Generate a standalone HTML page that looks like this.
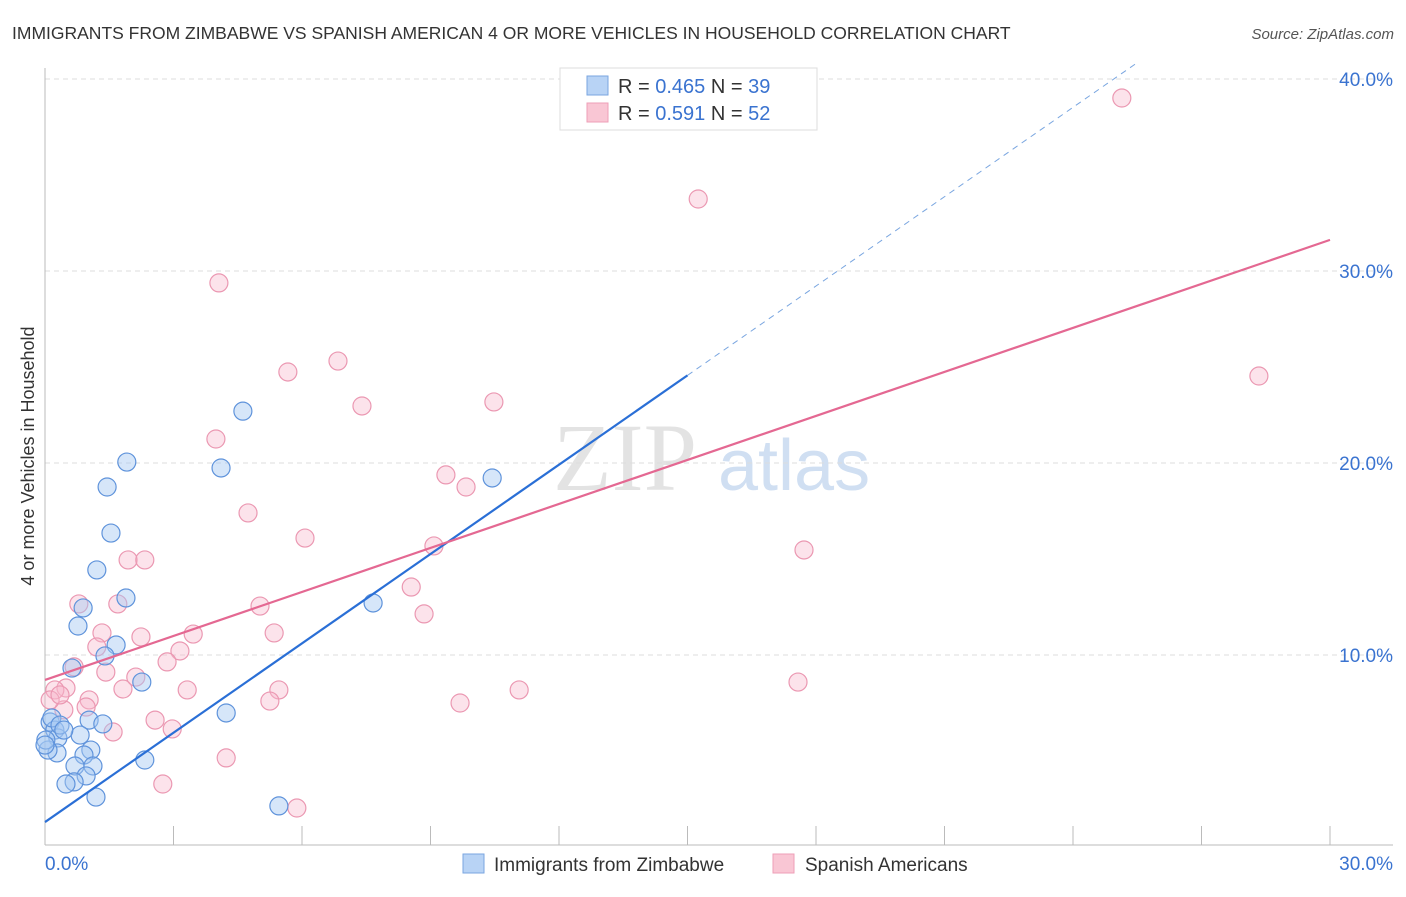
<!DOCTYPE html>
<html><head><meta charset="utf-8"><style>
body{margin:0;background:#fff;font-family:"Liberation Sans",sans-serif;}
</style></head><body>
<svg id="chart" width="1406" height="892" xmlns="http://www.w3.org/2000/svg" style="font-family:'Liberation Sans',sans-serif">
<text x="12" y="39" font-size="17.5" fill="#333">IMMIGRANTS FROM ZIMBABWE VS SPANISH AMERICAN 4 OR MORE VEHICLES IN HOUSEHOLD CORRELATION CHART</text>
<text x="1394" y="39" font-size="15" fill="#555" font-style="italic" text-anchor="end">Source: ZipAtlas.com</text>
<g>
<text x="553" y="490" font-size="96" fill="#ddd" font-family="Liberation Serif,serif" opacity="0.8">ZIP</text>
<text x="718" y="490" font-size="72" fill="#c5d8f0" opacity="0.8">atlas</text>
</g>
<g id="grid"></g><g id="axes"></g><g id="marks"></g>
<text transform="translate(34,456) rotate(-90)" font-size="18" fill="#333" text-anchor="middle">4 or more Vehicles in Household</text>
<g>
<rect x="560" y="68" width="257" height="62" fill="#fff" stroke="#ddd"/>
<rect x="587" y="76" width="21" height="19" fill="#b8d3f5" stroke="#7aa6e0"/>
<rect x="587" y="103" width="21" height="19" fill="#f9c6d4" stroke="#ee9fb7"/>
<text x="618" y="93" font-size="20" fill="#333">R = <tspan fill="#3a73d0">0.465</tspan>   N = <tspan fill="#3a73d0">39</tspan></text>
<text x="618" y="120" font-size="20" fill="#333">R =  <tspan fill="#3a73d0">0.591</tspan>   N = <tspan fill="#3a73d0">52</tspan></text>
</g>
<g>
<rect x="463" y="854" width="21" height="19" fill="#b8d3f5" stroke="#7aa6e0"/>
<text x="494" y="871" font-size="19" fill="#333">Immigrants from Zimbabwe</text>
<rect x="773" y="854" width="21" height="19" fill="#f9c6d4" stroke="#ee9fb7"/>
<text x="805" y="871" font-size="19" fill="#333">Spanish Americans</text>
</g>
</svg>
<script>
const blueX=[4.62,1.91,4.11,1.45,10.44,1.54,1.21,1.89,0.89,0.77,1.66,1.40,0.63,2.26,7.66,4.23,1.03,1.35,0.12,0.23,0.30,0.82,1.07,0.91,0.28,0.07,2.33,0.70,1.12,0.96,0.68,0.49,1.19,5.46,0.16,0.35,0.02,0.44,0];
const blueY=[22.7,20.05,19.74,18.75,19.22,16.35,14.43,12.97,12.45,11.51,10.52,9.95,9.32,8.59,12.71,6.98,6.61,6.41,6.51,6.09,5.68,5.83,5.05,4.79,4.90,5.05,4.53,4.22,4.22,3.70,3.39,3.28,2.60,2.14,6.72,6.35,5.57,6.09,5.31];
const pinkX=[25.14,15.25,4.06,6.84,5.67,7.40,10.48,3.99,9.36,9.83,4.74,6.07,9.08,1.94,2.33,17.72,8.55,8.85,5.02,1.70,0.79,5.35,3.46,1.33,2.24,1.21,3.15,2.85,1.42,0.68,0.49,1.82,3.32,5.46,11.07,17.58,28.34,2.12,1.03,5.25,9.69,0.96,0.44,2.57,1.59,2.97,4.23,2.75,5.88,0.23,0.12,0.35];
const pinkY=[39.01,33.75,29.38,25.31,24.74,22.97,23.18,21.25,19.38,18.75,17.40,16.09,15.68,14.95,14.95,15.47,13.54,12.14,12.55,12.66,12.66,11.15,11.09,11.15,10.94,10.42,10.21,9.64,9.11,9.38,8.28,8.23,8.18,8.18,8.18,8.59,24.53,8.85,7.66,7.60,7.50,7.29,7.14,6.61,5.99,6.15,4.64,3.28,2.03,8.18,7.66,7.92];
const blueTrend=[1.30,1.551];
const pinkTrend=[8.70,0.764];
const yTicks=[10,20,30,40];
const yTickLabels=["10.0%","20.0%","30.0%","40.0%"];
const xTicks=[0,3,6,9,12,15,18,21,24,27,30];
const NS="http://www.w3.org/2000/svg";
const sx=v=>45+v*1285/30, sy=v=>847-v*19.2;
function mk(tag,attrs,parent,text){const e=document.createElementNS(NS,tag);for(const k in attrs)e.setAttribute(k,attrs[k]);if(text!==undefined)e.textContent=text;document.getElementById(parent).appendChild(e);return e;}
yTicks.forEach((t,i)=>{
 const g=mk('line',{x1:45,x2:1393,y1:sy(t),y2:sy(t),stroke:'#ddd','stroke-dasharray':'5,4'},'grid');
 
 
 const l=mk('text',{x:1393,y:sy(t)+7,'font-size':19,fill:'#3a73d0','text-anchor':'end'},'axes',yTickLabels[i]);
 
 
});
const ya=mk('line',{x1:45,x2:45,y1:68,y2:845,stroke:'#bbb'},'axes');


const xa=mk('line',{x1:45,x2:1393,y1:845,y2:845,stroke:'#bbb'},'axes');


xTicks.forEach(t=>{const k=mk('line',{x1:sx(t),x2:sx(t),y1:826,y2:845,stroke:'#bbb'},'axes');
 
 });
const x0=mk('text',{x:45,y:870,'font-size':19,fill:'#3a73d0'},'axes','0.0%');


const x1=mk('text',{x:1393,y:870,'font-size':19,fill:'#3a73d0','text-anchor':'end'},'axes','30.0%');


pinkX.forEach((x,i)=>{const c=mk('circle',{cx:sx(x),cy:sy(pinkY[i]),r:9,fill:'rgba(248,185,205,0.4)',stroke:'#eb98b2','stroke-width':1.2},'marks');
 
 });
blueX.forEach((x,i)=>{const c=mk('circle',{cx:sx(x),cy:sy(blueY[i]),r:9,fill:'rgba(165,200,242,0.45)',stroke:'#5f93db','stroke-width':1.2},'marks');
 
 });
const bEnd=15.0, bDashEnd=(40.8-blueTrend[0])/blueTrend[1];
const bl=mk('line',{x1:sx(0),y1:sy(blueTrend[0]),x2:sx(bEnd),y2:sy(blueTrend[0]+blueTrend[1]*bEnd),stroke:'#2a6fd6','stroke-width':2.2},'marks');


const bd=mk('line',{x1:sx(bEnd),y1:sy(blueTrend[0]+blueTrend[1]*bEnd),x2:sx(bDashEnd),y2:sy(blueTrend[0]+blueTrend[1]*bDashEnd),stroke:'#7aa6e0','stroke-width':1,'stroke-dasharray':'6,5'},'marks');


const pl=mk('line',{x1:sx(0),y1:sy(pinkTrend[0]),x2:sx(30),y2:sy(pinkTrend[0]+pinkTrend[1]*30),stroke:'#e46892','stroke-width':2.2},'marks');


</script>
</body></html>
